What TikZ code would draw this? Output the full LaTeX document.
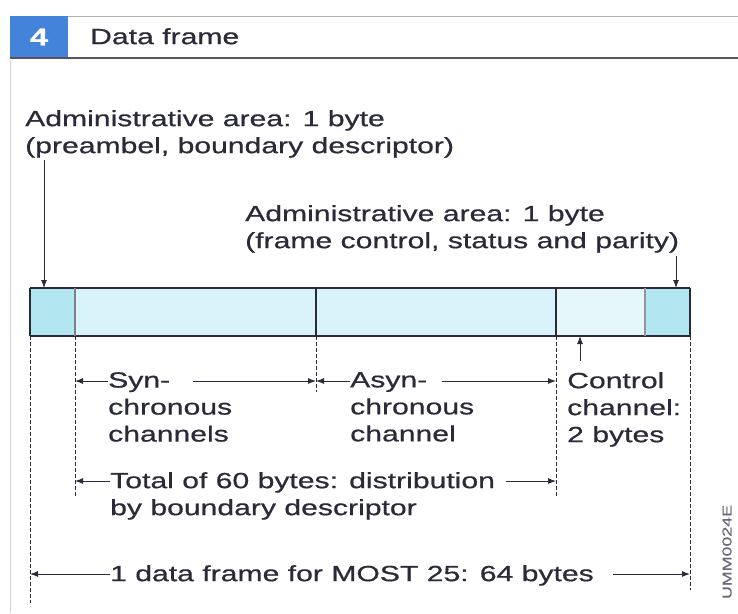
\documentclass[tikz,border=0pt]{standalone}
\usepackage{fontspec}
\setmainfont{Liberation Sans}[FakeStretch=1.37, FakeBold=0.6]
\usetikzlibrary{arrows.meta,positioning}

\definecolor{ink}{HTML}{2A2A38}
\definecolor{headblue}{HTML}{4483DA}
\definecolor{admcyan}{HTML}{B2E6F1}
\definecolor{chancyan}{HTML}{D8F3F9}
\definecolor{ctrlcyan}{HTML}{E6F7FA}

\tikzset{
    lbl/.style={inner sep=0pt, anchor=north west, align=left, text=ink,
        font=\fontsize{22}{27}\selectfont},
    dimline/.style={-{Latex[length=8pt,width=6pt]}, line width=1pt, draw=ink},
    guide/.style={dashed, dash pattern=on 4pt off 2pt, line width=0.9pt, draw=ink},
    barline/.style={line width=1.6pt, draw=ink},
}

\begin{document}
\begin{tikzpicture}[x=1pt, y=-1pt, >=stealth]
    \useasboundingbox[fill=white] (0,0) rectangle (738,613);
    \draw[gray!35, line width=0.8pt] (10,60) -- (10,613);

    % header
    \fill[headblue] (10,16) rectangle (68,58);
    \draw[gray!60, line width=0.8pt] (68,16) -- (738,16);
    \draw[ink!80, line width=1.3pt] (10,58) -- (738,58);
    \node[text=white, font=\fontsize{24}{24}\selectfont\bfseries] (num) at (39,37) {4};
    \node[lbl] (title) at (90,28) {Data frame};

    % the frame
    \coordinate (b0) at (30,288);
    \coordinate (b1) at (75,288);
    \coordinate (b2) at (316,288);
    \coordinate (b3) at (556,288);
    \coordinate (b4) at (645,288);
    \coordinate (b5) at (690,288);
    \coordinate (bb0) at (30,336);
    \coordinate (bb1) at (75,336);
    \coordinate (bb2) at (316,336);
    \coordinate (bb3) at (556,336);
    \coordinate (bb4) at (645,336);
    \coordinate (bb5) at (690,336);
    \fill[admcyan] (b0) rectangle (bb1);
    \fill[chancyan] (b1) rectangle (bb3);
    \fill[ctrlcyan] (b3) rectangle (bb4);
    \fill[admcyan] (b4) rectangle (bb5);
    \draw[barline] (b0) -- (b5);
    \draw[barline] (bb0) -- (bb5);
    \draw[line width=1.2pt, draw=ink!60] (b1) -- (bb1);
    \draw[barline] (b2) -- (bb2);
    \draw[barline] (b3) -- (bb3);
    \draw[line width=1.2pt, draw=ink!50] (b4) -- (bb4);
    \draw[barline] (b0) -- (bb0);
    \draw[barline] (b5) -- (bb5);

    % guides
    \draw[guide] (bb0) -- ++(0,267);
    \draw[guide] (bb1) -- ++(0,160);
    \draw[guide] (bb2) -- ++(0,56);
    \draw[guide] (bb3) -- ++(0,160);
    \draw[guide] (bb5) -- ++(0,254);

    % administrative areas
    \node[lbl] (adma) at (25,110) {Administrative area: 1 byte\\(preambel, boundary descriptor)};
    \node[lbl] (admb) at (245,205) {Administrative area: 1 byte\\(frame control, status and parity)};
    \coordinate (pa) at (44,160);
    \coordinate (pb) at (676,256);
    \draw[dimline] (pa) -- (pa |- b0);
    \draw[dimline] (pb) -- (pb |- b5);

    % channels
    \node[lbl] (syn) at (108,372) {Syn-\\chronous\\channels};
    \node[lbl] (asyn) at (350,372) {Asyn-\\chronous\\channel};
    \node[lbl] (ctrl) at (567,372) {Control\\channel:\\2 bytes};
    \draw[dimline] ([yshift=-9pt]syn.north west) -- ([yshift=-9pt]syn.north west -| b1);
    \draw[dimline] ([shift={(85pt,-9pt)}]syn.north west) -- ([yshift=-9pt]syn.north west -| b2);
    \draw[dimline] ([yshift=-9pt]asyn.north west) -- ([yshift=-9pt]asyn.north west -| b2);
    \draw[dimline] ([shift={(92pt,-9pt)}]asyn.north west) -- ([yshift=-9pt]asyn.north west -| b3);
    \coordinate (pc) at (580,361);
    \draw[dimline] (pc) -- (pc |- bb3);

    % totals
    \node[lbl] (total) at (110,472) {Total of 60 bytes: distribution\\by boundary descriptor};
    \draw[dimline] ([yshift=-9pt]total.north west) -- ([yshift=-9pt]total.north west -| b1);
    \draw[dimline] ([shift={(396pt,-9pt)}]total.north west) -- ([yshift=-9pt]total.north west -| b3);

    \node[lbl] (whole) at (110,565) {1 data frame for MOST 25: 64 bytes};
    \draw[dimline] ([yshift=-9pt]whole.north west) -- ([yshift=-9pt]whole.north west -| b0);
    \draw[dimline] ([shift={(503pt,-9pt)}]whole.north west) -- ([yshift=-9pt]whole.north west -| b5);

    \node[rotate=90, text=ink!70, inner sep=0pt, font=\fontsize{13}{13}\selectfont] (code) at (727,552) {UMM0024E};
\end{tikzpicture}
\end{document}
